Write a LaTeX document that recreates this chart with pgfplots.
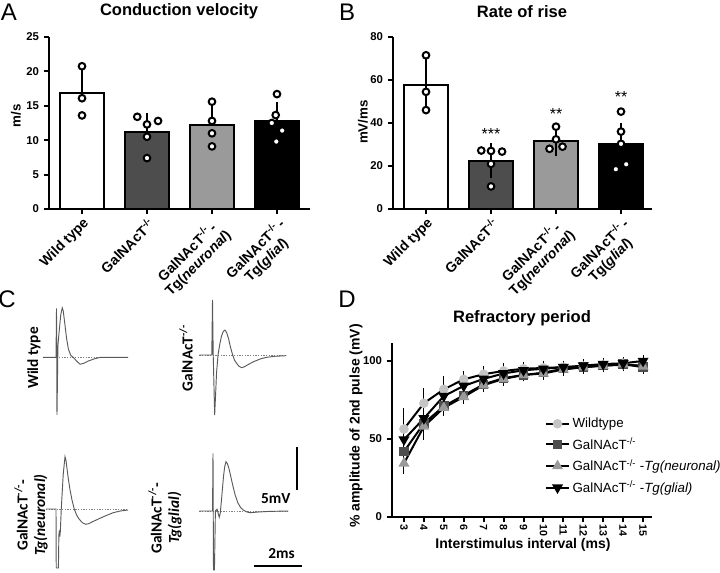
\documentclass[border=0pt]{standalone}
\usepackage{pgfplots}
\pgfplotsset{compat=1.18}
\usepackage{fontspec}
\setmainfont{Liberation Sans}
\newfontfamily\calib{Carlito}

\definecolor{dkgray}{HTML}{4D4D4D}
\definecolor{mdgray}{HTML}{9A9A9A}
\definecolor{ltgray}{HTML}{C4C4C4}
\definecolor{tracegray}{HTML}{5A5A5A}

\pgfplotsset{
  barpanel/.style={
    scale only axis, anchor=south west, clip=false,
    axis x line=bottom, axis y line=left,
    axis line style={-, line width=1.5pt},
    every tick/.style={black, line width=1.5pt},
    major tick length=4pt, tick align=outside,
    xtick={0,1,2,3}, ymin=0,
    xticklabels={Wild type, GalNAcT\textsuperscript{-/-},
      {GalNAcT\textsuperscript{-/-}\,-\\Tg(\textit{neuronal})},
      {GalNAcT\textsuperscript{-/-}\,-\\Tg(\textit{glial})}},
    xticklabel style={rotate=45, anchor=north east, align=center, inner sep=1pt,
      font=\fontsize{10.5}{11.5}\selectfont\bfseries},
    yticklabel style={font=\fontsize{8.5}{10}\selectfont\bfseries},
    /pgf/number format/assume math mode=true,
  },
  mybar/.style={ybar, bar width=32.5pt, bar shift=0pt, draw=black, line width=1.5pt,
    error bars/y dir=#1, error bars/y explicit,
    error bars/error bar style={line width=1.5pt, black},
    error bars/error mark options={line width=1.5pt, mark size=8pt, black}},
  mydots/.style={only marks, mark=*, mark size=2.5pt,
    mark options={fill=white, draw=black, line width=1.5pt}},
  tracepanel/.style={hide axis, anchor=south west, clip=false,
    x=18pt, y=6.45pt, xmin=-0.7, xmax=3.3, ymin=-7.5, ymax=7.5},
  mytrace/.style={tracegray, line width=0.7pt},
  zeroline/.style={gray, line width=0.4pt, dash pattern=on 1pt off 1pt},
}

\begin{document}
\begin{tikzpicture}
\useasboundingbox (0,0) rectangle (540pt,429pt);

% ---------- A: conduction velocity
\begin{axis}[barpanel, at={(36.75pt,272.25pt)}, width=195.75pt, height=129pt,
  xmin=-0.508, xmax=3.508, ymax=25, ytick={0,5,...,25}]
\addplot[mybar=plus, fill=white] coordinates {(0,16.8) +- (0,2.1)};
\addplot[mybar=plus, fill=dkgray] coordinates {(1,11.25) +- (0,1.1)};
\addplot[mybar=plus, fill=mdgray] coordinates {(2,12.2) +- (0,1.35)};
\addplot[mybar=plus, fill=black] coordinates {(3,12.85) +- (0,1.2)};
\addplot[mydots] coordinates {(0,20.75) (0,16.1) (0,13.6)
  (0.85,13.4) (1.17,12.8) (1,12.3) (1,10.5) (1,7.4)
  (2,15.6) (2,12.8) (2,11.0) (2,9.1)
  (3,16.7) (2.98,13.65) (2.92,12.5) (3.08,11.4) (2.99,9.8)};
\end{axis}

% ---------- B: rate of rise
\begin{axis}[barpanel, at={(294.75pt,272.25pt)}, width=194.25pt, height=129pt,
  xmin=-0.508, xmax=3.477, ymax=80, ytick={0,20,...,80}]
\addplot[mybar=both, fill=white] coordinates {(0,57.6) +- (0,7.5)};
\addplot[mybar=both, fill=dkgray] coordinates {(1,22.5) +- (0,3.1)};
\addplot[mybar=both, fill=mdgray] coordinates {(2,31.8) +- (0,2.4)};
\addplot[mybar=both, fill=black] coordinates {(3,30.3) +- (0,4.9)};
\addplot[mydots] coordinates {(0,71.5) (0,54.5) (0,46)
  (0.85,27.2) (1.17,26.7) (1,27.0) (1,21.0) (1,10.5)
  (2,38.3) (2,32.4) (1.9,28.0) (2.1,29.0)
  (3,45.3) (3,36.0) (3,30.3) (3.08,20.8) (2.92,18.5)};
\node[font=\fontsize{12}{12}\selectfont] at (axis cs:1,35) {***};
\node[font=\fontsize{12}{12}\selectfont] at (axis cs:2,44.3) {**};
\node[font=\fontsize{12}{12}\selectfont] at (axis cs:3,52.2) {**};
\end{axis}

% ---------- C: traces (x in ms, y in mV, origin at stimulus)
\begin{axis}[tracepanel, at={(29.775pt,112.625pt)}]
\addplot[zeroline] coordinates {(-0.56,0) (2.98,0)};
\addplot[mytrace] coordinates {(-0.56,0) (-0.02,0) (0,5.7) (0.02,-6.7) (0.06,1.4)
  (0.12,3.3) (0.18,5.0) (0.24,5.75) (0.28,5.4) (0.33,4.3) (0.42,2.2) (0.5,0.9)
  (0.6,0.2) (0.7,0) (0.83,-0.41) (0.98,-0.8) (1.13,-0.7) (1.33,-0.42)
  (1.58,-0.17) (1.83,0) (2.98,0)};
\end{axis}

\begin{axis}[tracepanel, at={(146.775pt,114.375pt)}]
\addplot[zeroline] coordinates {(-0.55,0) (3.08,0)};
\addplot[mytrace] coordinates {(-0.55,0) (-0.03,0) (0,6.4) (0.03,0) (0.09,-7.0)
  (0.13,-4.5) (0.17,-2.0) (0.23,0) (0.3,1.2) (0.375,2.2) (0.45,2.75) (0.52,2.9)
  (0.59,2.6) (0.67,1.9) (0.75,0.9) (0.84,0) (0.92,-0.6) (1.0,-0.95) (1.1,-1.3)
  (1.22,-1.48) (1.34,-1.35) (1.46,-1.15) (1.71,-0.78) (2.0,-0.45) (2.25,-0.27)
  (2.6,-0.15) (3.08,-0.08)};
\end{axis}

\begin{axis}[tracepanel, at={(29.4pt,-1.125pt)}]
\addplot[zeroline] coordinates {(-0.42,0) (3.0,0)};
\addplot[mytrace] coordinates {(-0.42,0) (0,0) (0.01,-6.86) (0.1,-6.86) (0.12,-3.0)
  (0.14,-2.5) (0.16,-3.2) (0.18,-2.6) (0.22,0) (0.3,4.0) (0.375,6.08) (0.42,5.6)
  (0.46,4.65) (0.52,3.4) (0.58,2.3) (0.67,1.0) (0.76,0) (0.86,-0.7) (0.96,-1.16)
  (1.1,-1.6) (1.24,-1.78) (1.37,-1.7) (1.5,-1.51) (1.83,-1.08) (2.1,-0.75)
  (2.38,-0.43) (2.7,-0.22) (3.0,-0.12)};
\end{axis}

\begin{axis}[tracepanel, at={(147.15pt,-2.625pt)}]
\addplot[zeroline] coordinates {(-0.57,0) (3.14,0)};
\addplot[mytrace] coordinates {(-0.57,0) (-0.02,0) (0,6.7) (0.02,-6.86) (0.06,-6.86)
  (0.1,0) (0.17,0.2) (0.22,-0.3) (0.26,-0.73) (0.3,-0.3) (0.35,1.16) (0.4,2.8)
  (0.44,4.07) (0.49,5.2) (0.54,5.73) (0.6,5.5) (0.67,4.88) (0.75,3.9) (0.83,2.9)
  (0.93,1.8) (1.04,0.93) (1.15,0.4) (1.26,0.12) (1.4,-0.1) (1.54,-0.2)
  (1.875,-0.12) (2.3,-0.05) (3.14,0)};
% scale bars: 5 mV and 2 ms
\addplot[black, line width=1.5pt] coordinates {(3.5,2.44) (3.5,7.44)};
\addplot[black, line width=1.5pt] coordinates {(1.71,-6.4) (3.71,-6.4)};
\node[anchor=east, font=\calib\bfseries\fontsize{11.5}{12}\selectfont] at (axis cs:3.42,1.4) {5mV};
\node[font=\calib\bfseries\fontsize{11.5}{12}\selectfont] at (axis cs:2.86,-4.94) {2ms};
\end{axis}

% ---------- D: refractory period
\begin{axis}[scale only axis, anchor=south west, at={(294pt,41.25pt)},
  width=195pt, height=130.5pt, clip=false,
  xmin=2.4, xmax=15.45, ymin=0, ymax=111.5,
  axis x line=bottom, axis y line=left,
  axis line style={-, line width=1.5pt},
  every tick/.style={black, line width=1.5pt},
  major tick length=4pt, tick align=outside,
  xtick={3,...,15}, ytick={0,50,100},
  xticklabel style={rotate=-90, anchor=west, inner sep=1.5pt,
    font=\fontsize{8}{9}\selectfont\bfseries},
  yticklabel style={font=\fontsize{8.5}{10}\selectfont\bfseries},
  /pgf/number format/assume math mode=true,
  legend style={at={(0.588,0.586)}, anchor=north west, draw=none, fill=none,
    font=\fontsize{10}{12}\selectfont, row sep=2pt, inner sep=0pt},
  legend cell align=left,
  every axis plot/.append style={line width=1.5pt,
    error bars/y dir=both, error bars/y explicit,
    error bars/error bar style={line width=0.8pt},
    error bars/error mark options={line width=0.8pt, mark size=3pt}},
]
\addplot[black, mark=*, mark size=2.8pt, mark options={solid, fill=ltgray, draw=ltgray}]
  coordinates {(3,56.4) +- (0,11) (4,72.9) +- (0,7) (5,81.8) +- (0,6) (6,88.2) +- (0,3)
  (7,91.5) +- (0,2.5) (8,93.6) +- (0,2.5) (9,95) +- (0,2) (10,95.5) +- (0,2)
  (11,96) +- (0,1.5) (12,96.5) +- (0,1.5) (13,97) +- (0,1.5) (14,97.5) +- (0,1.5)
  (15,97) +- (0,1.5)};
\addlegendentry{Wildtype}
\addplot[black, mark=square*, mark size=2.8pt, mark options={solid, fill=dkgray, draw=dkgray}]
  coordinates {(3,41.9) +- (0,5) (4,60) +- (0,4) (5,71) +- (0,3) (6,78) +- (0,2.5)
  (7,85) +- (0,2) (8,89) +- (0,2) (9,91) +- (0,1.5) (10,92.5) +- (0,1.5)
  (11,95) +- (0,1.5) (12,96) +- (0,1.5) (13,97) +- (0,1.5) (14,98) +- (0,1.5)
  (15,96) +- (0,1.5)};
\addlegendentry{GalNAcT\textsuperscript{-/-}}
\addplot[black, mark=triangle*, mark size=3.3pt, mark options={solid, fill=mdgray, draw=mdgray}]
  coordinates {(3,34.4) +- (0,4) (4,58) +- (0,3) (5,70) +- (0,2.5) (6,77) +- (0,2)
  (7,84.5) +- (0,2) (8,88.5) +- (0,2) (9,91) +- (0,1.5) (10,92) +- (0,1.5)
  (11,94.5) +- (0,1.5) (12,96) +- (0,1.5) (13,97) +- (0,1.5) (14,98) +- (0,1.5)
  (15,96.5) +- (0,1.5)};
\addlegendentry{GalNAcT\textsuperscript{-/-} -\textit{Tg(neuronal)}}
\addplot[black, mark=triangle*, mark size=3.3pt, mark options={solid, rotate=180, fill=black}]
  coordinates {(3,49.6) +- (0,10) (4,63.2) +- (0,11) (5,77.5) +- (0,5) (6,84) +- (0,4)
  (7,88.5) +- (0,3) (8,92) +- (0,3) (9,94) +- (0,2) (10,95) +- (0,2)
  (11,96) +- (0,1.5) (12,97) +- (0,1.5) (13,98) +- (0,1.5) (14,98.5) +- (0,1.5)
  (15,100) +- (0,1.5)};
\addlegendentry{GalNAcT\textsuperscript{-/-} -\textit{Tg(glial)}}
\end{axis}

% ---------- text placed in pixel units of the reference
\begin{scope}[x=0.75pt, y=-0.75pt, yshift=429pt]
\node[font=\fontsize{18}{18}\selectfont] at (9,12) {A};
\node[font=\fontsize{18}{18}\selectfont] at (347,12) {B};
\node[font=\fontsize{18}{18}\selectfont] at (7,299) {C};
\node[font=\fontsize{18}{18}\selectfont] at (347,299) {D};
\node[font=\fontsize{12.4}{14}\selectfont\bfseries] at (179,11) {Conduction velocity};
\node[font=\fontsize{12.4}{14}\selectfont\bfseries] at (522,12) {Rate of rise};
\node[font=\fontsize{12.4}{14}\selectfont\bfseries] at (522,318) {Refractory period};
\node[rotate=90, font=\fontsize{10}{12}\selectfont\bfseries] at (16,116) {m/s};
\node[rotate=90, font=\fontsize{10}{12}\selectfont\bfseries] at (363,122) {mV/ms};
\node[rotate=90, font=\fontsize{10.5}{12}\selectfont\bfseries] at (356,426) {\% amplitude of 2nd pulse (mV)};
\node[font=\fontsize{10.5}{12}\selectfont\bfseries] at (523,545) {Interstimulus interval (ms)};
\node[rotate=90, font=\calib\bfseries\fontsize{11.5}{13}\selectfont] at (34,358) {Wild type};
\node[rotate=90, font=\calib\bfseries\fontsize{11.5}{13}\selectfont] at (186,358) {GalNAcT\textsuperscript{-/-}};
\node[rotate=90, align=center, font=\calib\bfseries\fontsize{11.5}{13}\selectfont] at (31,515)
  {GalNAcT\textsuperscript{-/-}-\\\textit{Tg(neuronal)}};
\node[rotate=90, align=center, font=\calib\bfseries\fontsize{11.5}{13}\selectfont] at (165,518)
  {GalNAcT\textsuperscript{-/-}-\\\textit{Tg(glial)}};
\end{scope}
\end{tikzpicture}
\end{document}
